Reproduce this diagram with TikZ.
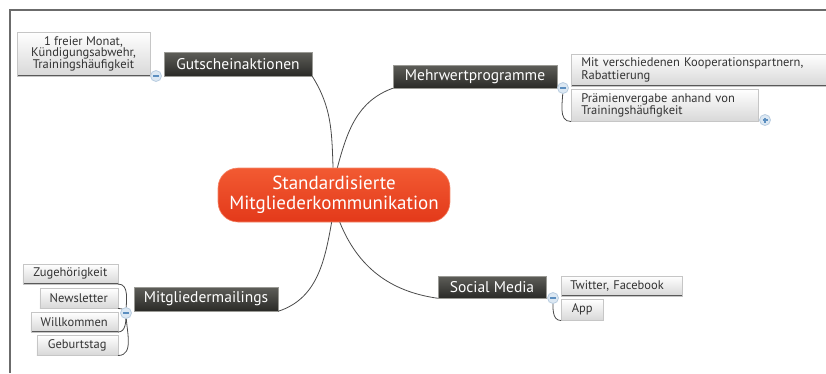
\documentclass[tikz,border=0pt]{standalone}
\usepackage{fontspec}
\setmainfont{PT Sans}
\usepackage{tikz}
\usetikzlibrary{positioning,calc}
\definecolor{hubtop}{HTML}{F25A32}
\definecolor{hubbot}{HTML}{E3391A}
\definecolor{hubedge}{HTML}{F4876A}
\definecolor{topictop}{HTML}{5E5E59}
\definecolor{topicbot}{HTML}{2A2A27}
\definecolor{topicedge}{HTML}{9A9A95}
\definecolor{ideabot}{HTML}{D8D8D8}
\definecolor{ideaedge}{HTML}{C6C6C6}
\definecolor{linegray}{HTML}{4A4A4A}
\definecolor{framegray}{HTML}{6B6B6B}
\definecolor{togglefill}{HTML}{DCE8F3}
\definecolor{toggleedge}{HTML}{B9CDE0}
\definecolor{togglebar}{HTML}{5C8FC0}

\begin{document}
\begin{tikzpicture}[x=1pt,y=-1pt]
\tikzset{hub/.style={rounded corners=20pt,top color=hubtop,bottom color=hubbot,draw=hubedge,line width=0.6pt,
text=white,align=center,minimum width=232pt,minimum height=54pt,inner sep=0pt,font=\fontsize{19}{20}\selectfont}}
\tikzset{topic/.style={top color=topictop,bottom color=topicbot,draw=topicedge,line width=0.5pt,
text=white,inner sep=0pt,font=\fontsize{15.5}{16}\selectfont}}
\tikzset{idea/.style={top color=white,bottom color=ideabot,draw=ideaedge,line width=0.5pt,
text=black!80,inner sep=0pt,minimum height=20pt,font=\fontsize{12.5}{11}\selectfont,
path picture={\draw[line width=1.3pt,black!65] (path picture bounding box.south west) -- (path picture bounding box.south east);}}}
\tikzset{toggle/.style={circle,minimum size=11pt,inner sep=0pt,fill=togglefill,draw=toggleedge,line width=0.8pt}}
\tikzset{minus/.style={path picture={\draw[line width=1.8pt,togglebar] ($(path picture bounding box.center)+(-3pt,0)$) -- +(6pt,0);}}}
\tikzset{plus/.style={path picture={\draw[line width=1.4pt,togglebar] ($(path picture bounding box.center)+(-2.5pt,0)$) -- +(5pt,0)
($(path picture bounding box.center)+(0,-2.5pt)$) -- +(0,5pt);}}}
\tikzset{branch/.style={draw=linegray,line width=0.8pt}}

\useasboundingbox (0,0) rectangle (826,373);
\draw[framegray,line width=1.6pt] (10,373) -- (10,10) -- (826,10);

\node[hub] (hub) at (334,195) {Standardisierte\\Mitgliederkommunikation};

\node[topic,minimum width=148pt,minimum height=24pt] (gut) at (238,64) {Gutscheinaktionen};
\node[topic,minimum width=164pt,minimum height=23pt] (mehr) at (475,76.5) {Mehrwertprogramme};
\node[topic,minimum width=144pt,minimum height=24pt] (mitgl) at (206,299) {Mitgliedermailings};
\node[topic,minimum width=108pt,minimum height=22pt] (soc) at (492,287) {Social Media};

\node[idea,align=center,minimum width=133pt,minimum height=44pt] (gut1) at (83.5,54)
{1 freier Monat,\\Kündigungsabwehr,\\Trainingshäufigkeit};

\node[idea,anchor=south west,align=left,text width=245pt,inner xsep=10pt,minimum height=32pt] (mehr1) at (571,86)
{Mit verschiedenen Kooperationspartnern,\\Rabattierung};
\node[idea,anchor=north west,align=left,text width=167pt,inner xsep=10pt,minimum height=32pt] (mehr2) at ([yshift=-3pt]mehr1.south west)
{Prämienvergabe anhand von\\Trainingshäufigkeit};

\node[idea,anchor=south west,align=left,text width=103pt,inner xsep=9pt] (soc1) at (561,296) {Twitter, Facebook};
\node[idea,anchor=north west,minimum width=42pt,minimum height=21pt] (soc2) at ([yshift=-3pt]soc1.south west) {App};

\node[idea,anchor=south east,minimum width=95pt] (mail1) at (118,284) {Zugehörigkeit};
\node[idea,anchor=north east,minimum width=78pt] (mail2) at ([yshift=-4pt]mail1.south east) {Newsletter};
\node[idea,anchor=north east,minimum width=87pt] (mail3) at ([yshift=-3pt]mail2.south east) {Willkommen};
\node[idea,anchor=north east,minimum width=81pt] (mail4) at ([yshift=-3pt]mail3.south east) {Geburtstag};

\draw[branch] (gut.south east) to[out=-58,in=92] (hub.92);
\draw[branch] (mehr.south west) to[out=200,in=75] (hub.83);
\draw[branch] (mitgl.south east) to[out=18,in=-100] (hub.265);
\draw[branch] (soc.south west) to[out=172,in=-68] (hub.282);

\coordinate (gutc) at (156,76);
\coordinate (mehrc) at (563,88);
\coordinate (socc) at (553,298);
\coordinate (mailc) at (126,313);
\coordinate (morec) at (765,120);

\draw[branch] (mehrc) to[out=-90,in=180] (mehr2.south west);
\draw[branch] (socc) to[out=-90,in=180] (soc2.south west);
\draw[branch] (mailc) to[out=90,in=0] (mail1.south east);
\draw[branch] (mailc) to[out=90,in=0] (mail2.south east);
\draw[branch] (mailc) to[out=-90,in=0] (mail3.south east);
\draw[branch] (mailc) to[out=-90,in=0] (mail4.south east);

\node[toggle,minus] (guttog) at (gutc) {};
\node[toggle,minus] (mehrtog) at (mehrc) {};
\node[toggle,minus] (soctog) at (socc) {};
\node[toggle,minus] (mailtog) at (mailc) {};
\node[toggle,plus] (moretog) at (morec) {};
\end{tikzpicture}
\end{document}
